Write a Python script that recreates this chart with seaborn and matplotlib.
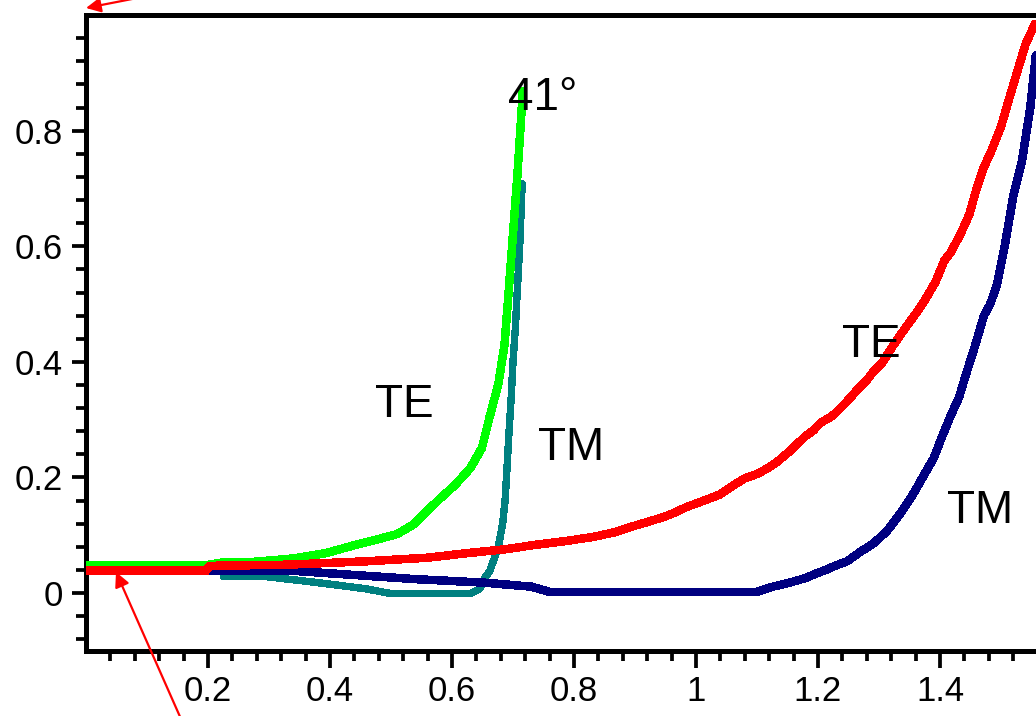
import matplotlib
matplotlib.use("Agg")
import matplotlib.pyplot as plt
import seaborn as sns
import numpy as np
from matplotlib import font_manager
from matplotlib.ticker import FixedLocator, FixedFormatter

# ---------------- data ----------------
# TE, glass -> air (green)
te_in_x = [0.0, 0.197, 0.23, 0.276, 0.342, 0.393, 0.441, 0.475, 0.510, 0.536, 0.559,
           0.580, 0.605, 0.630, 0.649, 0.662, 0.676, 0.686, 0.693, 0.700, 0.707,
           0.713, 0.716]
te_in_y = [0.048, 0.048, 0.054, 0.054, 0.060, 0.069, 0.083, 0.092, 0.102, 0.118, 0.142,
           0.163, 0.187, 0.216, 0.251, 0.306, 0.362, 0.429, 0.523, 0.622, 0.720,
           0.817, 0.868]

# TM, glass -> air (teal)
tm_in_x = [0.225, 0.29, 0.356, 0.41, 0.46, 0.50, 0.63, 0.645, 0.655, 0.662, 0.669,
           0.676, 0.683, 0.687, 0.690, 0.693, 0.697, 0.700, 0.704, 0.707, 0.711, 0.715]
tm_in_y = [0.029, 0.029, 0.021, 0.014, 0.007, -0.001, -0.001, 0.007, 0.028, 0.038, 0.059,
           0.080, 0.120, 0.160, 0.213, 0.270, 0.338, 0.400, 0.461, 0.523, 0.600, 0.708]

# TE, air -> glass (red)
te_out_x = [0.0, 0.197, 0.203, 0.33, 0.462, 0.559, 0.625, 0.690, 0.734, 0.787, 0.831,
            0.866, 0.895, 0.927, 0.951, 0.969, 0.985, 1.003, 1.021, 1.038, 1.058,
            1.079, 1.100, 1.116, 1.133, 1.151, 1.166, 1.180, 1.192, 1.205, 1.223,
            1.239, 1.254, 1.267, 1.279, 1.290, 1.305, 1.323, 1.344, 1.356, 1.370,
            1.382, 1.393, 1.407, 1.418, 1.434, 1.448, 1.459, 1.472, 1.485, 1.500,
            1.513, 1.526, 1.541, 1.556]
te_out_y = [0.039, 0.039, 0.047, 0.049, 0.055, 0.061, 0.069, 0.076, 0.083, 0.090, 0.097,
            0.105, 0.115, 0.125, 0.133, 0.141, 0.149, 0.156, 0.163, 0.170, 0.184,
            0.198, 0.206, 0.215, 0.227, 0.243, 0.258, 0.272, 0.281, 0.295, 0.306,
            0.322, 0.339, 0.355, 0.367, 0.382, 0.398, 0.428, 0.460, 0.477, 0.498,
            0.519, 0.539, 0.575, 0.590, 0.622, 0.655, 0.696, 0.737, 0.767, 0.807,
            0.854, 0.900, 0.952, 0.985]

# TM, air -> glass (navy)
tm_out_x = [0.197, 0.345, 0.54, 0.652, 0.73, 0.76, 0.93, 1.10, 1.126, 1.157, 1.180,
            1.195, 1.213, 1.230, 1.248, 1.269, 1.290, 1.313, 1.338, 1.357, 1.372,
            1.390, 1.402, 1.418, 1.431, 1.444, 1.459, 1.472, 1.482, 1.493, 1.507,
            1.520, 1.534, 1.548, 1.557]
tm_out_y = [0.038, 0.038, 0.024, 0.018, 0.011, 0.002, 0.002, 0.002, 0.011, 0.019, 0.026,
            0.033, 0.040, 0.048, 0.055, 0.071, 0.085, 0.107, 0.142, 0.173, 0.201,
            0.234, 0.267, 0.308, 0.338, 0.383, 0.433, 0.480, 0.499, 0.532, 0.606,
            0.686, 0.745, 0.840, 0.930]

x_major = [0.2, 0.4, 0.6, 0.8, 1.0, 1.2, 1.4]
x_labels = ["0.2", "0.4", "0.6", "0.8", "1", "1.2", "1.4"]
y_major = [0.0, 0.2, 0.4, 0.6, 0.8]
y_labels = ["0", "0.2", "0.4", "0.6", "0.8"]

annotations = [("41°", 0.692, 0.836), ("TE", 0.474, 0.305), ("TM", 0.741, 0.230),
               ("TE", 1.239, 0.409), ("TM", 1.411, 0.121)]

# ---------------- style ----------------
sns.set_style("white")


def pick(fams):
    for f in fams:
        try:
            font_manager.findfont(f, fallback_to_default=False)
            return f
        except Exception:
            pass
    return "DejaVu Sans"


text_font = pick(["Liberation Sans", "Arial", "DejaVu Sans"])
tick_font = pick(["Liberation Sans Narrow", "Liberation Sans", "DejaVu Sans"])
tick_size = {"Liberation Sans Narrow": 27, "Liberation Sans": 25}.get(tick_font, 21)
plt.rcParams["font.family"] = [text_font, "DejaVu Sans"]

W, H = 1036, 716
fig = plt.figure(figsize=(W / 100, H / 100), dpi=100)
xmax = np.pi / 2
ymin, ymax = -0.1, 1.0
px_x = 610.0
px_y = 577.9
ax = fig.add_axes([86 / W, (H - 650.8) / H, xmax * px_x / W, (ymax - ymin) * px_y / H])
ax.set_facecolor("white")

lw = 5.4
kw = dict(estimator=None, sort=False, antialiased=False, solid_joinstyle="miter", ax=ax)
sns.lineplot(x=tm_in_x, y=tm_in_y, color="#008080", lw=4.6, zorder=2, **kw)
sns.lineplot(x=te_in_x, y=te_in_y, color="#00ff00", lw=lw, zorder=3, **kw)
sns.lineplot(x=tm_out_x, y=tm_out_y, color="#000080", lw=lw, zorder=4, **kw)
sns.lineplot(x=te_out_x, y=te_out_y, color="#ff0000", lw=lw, zorder=5, **kw)

ax.set_xlim(0, xmax)
ax.set_ylim(ymin, ymax)
ax.set_xlabel("")
ax.set_ylabel("")

for s in ["top", "left", "bottom", "right"]:
    ax.spines[s].set_visible(True)
    ax.spines[s].set_color("black")
    ax.spines[s].set_linewidth(3.6)

ax.xaxis.set_major_locator(FixedLocator(x_major))
ax.xaxis.set_major_formatter(FixedFormatter(x_labels))
ax.yaxis.set_major_locator(FixedLocator(y_major))
ax.yaxis.set_major_formatter(FixedFormatter(y_labels))
ax.xaxis.set_minor_locator(FixedLocator(np.arange(0.04, 1.57, 0.04)))
ax.yaxis.set_minor_locator(FixedLocator(np.arange(-0.08, 0.99, 0.04)))

ax.tick_params(which="both", direction="out", color="black", width=2.7,
               bottom=True, left=True, top=False, right=False)
ax.tick_params(axis="x", which="major", length=12.2, pad=5.0)
ax.tick_params(axis="y", which="major", length=10.0, pad=6.5)
ax.tick_params(which="minor", length=7.2)
for lab in ax.get_xticklabels() + ax.get_yticklabels():
    lab.set_fontfamily(tick_font)
    lab.set_fontsize(tick_size)
    lab.set_color("black")

for txt, tx, ty in annotations:
    ax.text(tx, ty, txt, fontsize=33, color="black", ha="left", va="baseline",
            family=[text_font, "DejaVu Sans"], zorder=6)

arrow = dict(arrowstyle="-|>", color="red", lw=1.6, mutation_scale=22,
             shrinkA=0, shrinkB=0)
ax.annotate("", xy=(116, 144), xycoords="figure pixels",
            xytext=(185, -12), textcoords="figure pixels",
            arrowprops=arrow, annotation_clip=False)
ax.annotate("", xy=(86, 708), xycoords="figure pixels",
            xytext=(150, 720.5), textcoords="figure pixels",
            arrowprops=arrow, annotation_clip=False)

fig.savefig("out.png", dpi=100, facecolor="white")
